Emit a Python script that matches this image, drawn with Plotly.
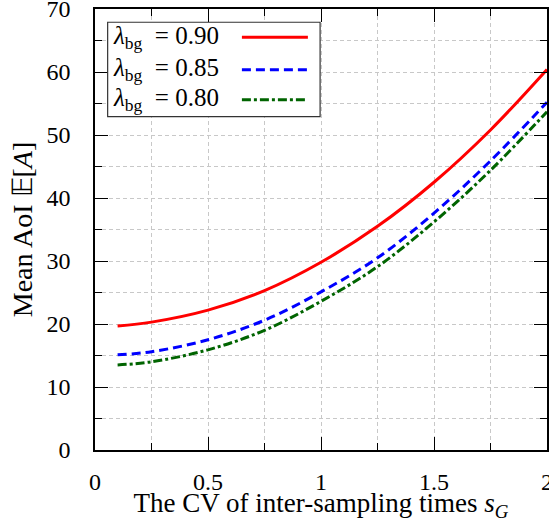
import plotly.graph_objects as go

# ---- data ----
cv = [0.1, 0.25, 0.5, 0.75, 1.0, 1.25, 1.5, 1.75, 2.0]
aoi_090 = [19.7, 20.3, 22.2, 25.3, 29.8, 35.5, 42.5, 50.8, 60.4]
aoi_085 = [15.1, 15.6, 17.5, 20.6, 25.1, 30.5, 37.6, 45.9, 55.2]
aoi_080 = [13.5, 14.0, 15.9, 19.0, 23.6, 29.1, 36.2, 44.4, 53.7]

NB = "\u00a0"
series_names = ["<i>λ</i><sub>bg</sub>" + NB * 2 + "=" + NB + "0.90",
                "<i>λ</i><sub>bg</sub>" + NB * 2 + "=" + NB + "0.85",
                "<i>λ</i><sub>bg</sub>" + NB * 2 + "=" + NB + "0.80"]
series_vals = [aoi_090, aoi_085, aoi_080]
series_colors = ["#ff0000", "#0000ff", "#006400"]
series_dash = ["solid", "9px,5px", "9px,3px,3px,3px"]

x_ticks = [0, 0.5, 1, 1.5, 2]
x_ticklabels = ["0", "0.5", "1", "1.5", "2"]
y_ticks = [0, 10, 20, 30, 40, 50, 60, 70]

FONT = "Liberation Serif"
FS_TICK = 24
FS_TITLE = 27
FS_LEG = 25

fig = go.Figure()
for name, vals, col, dash in zip(series_names, series_vals, series_colors, series_dash):
    fig.add_trace(go.Scatter(
        x=cv, y=vals, mode="lines", name=name, line_shape="spline",
        line=dict(color=col, width=3, dash=dash, smoothing=1.0), showlegend=False))

grid_col = "#c8c8c8"
axis_common = dict(
    showline=True, linecolor="black", linewidth=1.5, mirror="allticks",
    ticks="inside", ticklen=13, tickwidth=1.2, tickcolor="black",
    showgrid=True, gridcolor=grid_col, griddash="4px,3px", gridwidth=1,
    zeroline=False, automargin=False, ticklabeloverflow="allow",
    tickfont=dict(family=FONT, size=FS_TICK, color="black"),
)

fig.update_xaxes(
    range=[0, 2], tickvals=x_ticks, ticktext=x_ticklabels, ticklabelstandoff=9,
    minor=dict(dtick=0.25, ticks="inside", ticklen=7, tickcolor="black",
               showgrid=True, gridcolor=grid_col, griddash="4px,3px", gridwidth=1),
    title=dict(text="The CV of inter-sampling times <i>s<sub>G</sub></i>",
               font=dict(family=FONT, size=FS_TITLE, color="black"), standoff=2),
    **axis_common)
fig.update_yaxes(
    range=[0, 70], tickvals=y_ticks, ticklabelstandoff=18,
    minor=dict(dtick=5, ticks="inside", ticklen=7, tickcolor="black",
               showgrid=True, gridcolor=grid_col, griddash="4px,3px", gridwidth=1),
    title=dict(text="Mean AoI 𝔼[<i>A</i>]",
               font=dict(family=FONT, size=28, color="black"), standoff=6),
    **axis_common)

# ---- custom legend (sample line to the right of the label) ----
shapes = [dict(type="rect", xref="paper", yref="paper",
               x0=0.028, x1=0.498, y0=0.756, y1=0.970,
               line=dict(color="#333333", width=1.2), fillcolor="white", layer="above")]
annotations = []
row_y = [0.936, 0.862, 0.794]
for name, col, dash, yy in zip(series_names, series_colors, series_dash, row_y):
    annotations.append(dict(xref="paper", yref="paper", x=0.035, y=yy,
                            text=name, showarrow=False, xanchor="left", yanchor="middle",
                            font=dict(family=FONT, size=FS_LEG, color="black")))
    shapes.append(dict(type="line", xref="paper", yref="paper",
                       x0=0.325, x1=0.471, y0=yy, y1=yy,
                       line=dict(color=col, width=3, dash=dash), layer="above"))

fig.update_layout(
    width=549, height=522,
    margin=dict(l=95, r=2, t=9, b=72),
    paper_bgcolor="white", plot_bgcolor="white",
    shapes=shapes, annotations=annotations,
    font=dict(family=FONT, size=FS_TICK, color="black"),
)

fig.write_html("out.html", config={"displayModeBar": False},
               post_script="document.body.style.margin='0';document.body.style.overflow='hidden';")
